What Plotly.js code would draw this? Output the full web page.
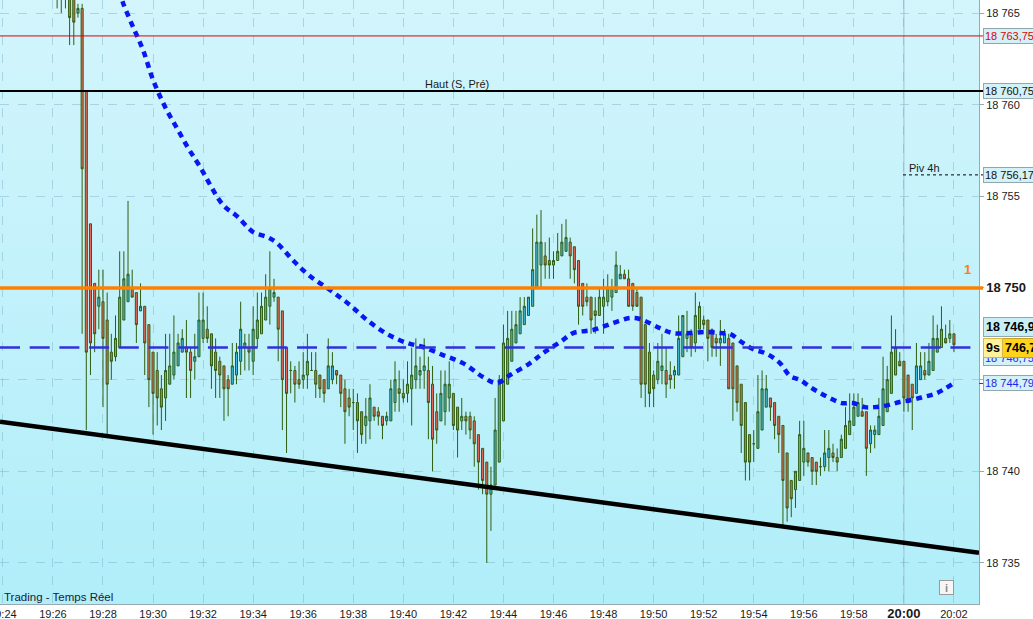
<!DOCTYPE html>
<html><head><meta charset="utf-8">
<script src="https://cdn.plot.ly/plotly-3.0.1.min.js"></script>
<style>
html,body{margin:0;padding:0;background:#fff;overflow:hidden}
#bg{position:absolute;left:0;top:0;width:979px;height:604px;background:linear-gradient(#d3f5fc,#b0eef9)}
#chart{position:absolute;left:0;top:0;width:1033px;height:619px}
</style></head><body><div id="bg"></div><div id="chart"></div>
<script>
const DAY = '2024-01-01 ';
const TIME = [
'19:26:10','19:26:20','19:26:30','19:26:40','19:26:50',
'19:27:00','19:27:10','19:27:20','19:27:30','19:27:40','19:27:50',
'19:28:00','19:28:10','19:28:20','19:28:30','19:28:40','19:28:50',
'19:29:00','19:29:10','19:29:20','19:29:30','19:29:40','19:29:50',
'19:30:00','19:30:10','19:30:20','19:30:30','19:30:40','19:30:50',
'19:31:00','19:31:10','19:31:20','19:31:30','19:31:40','19:31:50',
'19:32:00','19:32:10','19:32:20','19:32:30','19:32:40','19:32:50',
'19:33:00','19:33:10','19:33:20','19:33:30','19:33:40','19:33:50',
'19:34:00','19:34:10','19:34:20','19:34:30','19:34:40','19:34:50',
'19:35:00','19:35:10','19:35:20','19:35:30','19:35:40','19:35:50',
'19:36:00','19:36:10','19:36:20','19:36:30','19:36:40','19:36:50',
'19:37:00','19:37:10','19:37:20','19:37:30','19:37:40','19:37:50',
'19:38:00','19:38:10','19:38:20','19:38:30','19:38:40','19:38:50',
'19:39:00','19:39:10','19:39:20','19:39:30','19:39:40','19:39:50',
'19:40:00','19:40:10','19:40:20','19:40:30','19:40:40','19:40:50',
'19:41:00','19:41:10','19:41:20','19:41:30','19:41:40','19:41:50',
'19:42:00','19:42:10','19:42:20','19:42:30','19:42:40','19:42:50',
'19:43:00','19:43:10','19:43:20','19:43:30','19:43:40','19:43:50',
'19:44:00','19:44:10','19:44:20','19:44:30','19:44:40','19:44:50',
'19:45:00','19:45:10','19:45:20','19:45:30','19:45:40','19:45:50',
'19:46:00','19:46:10','19:46:20','19:46:30','19:46:40','19:46:50',
'19:47:00','19:47:10','19:47:20','19:47:30','19:47:40','19:47:50',
'19:48:00','19:48:10','19:48:20','19:48:30','19:48:40','19:48:50',
'19:49:00','19:49:10','19:49:20','19:49:30','19:49:40','19:49:50',
'19:50:00','19:50:10','19:50:20','19:50:30','19:50:40','19:50:50',
'19:51:00','19:51:10','19:51:20','19:51:30','19:51:40','19:51:50',
'19:52:00','19:52:10','19:52:20','19:52:30','19:52:40','19:52:50',
'19:53:00','19:53:10','19:53:20','19:53:30','19:53:40','19:53:50',
'19:54:00','19:54:10','19:54:20','19:54:30','19:54:40','19:54:50',
'19:55:00','19:55:10','19:55:20','19:55:30','19:55:40','19:55:50',
'19:56:00','19:56:10','19:56:20','19:56:30','19:56:40','19:56:50',
'19:57:00','19:57:10','19:57:20','19:57:30','19:57:40','19:57:50',
'19:58:00','19:58:10','19:58:20','19:58:30','19:58:40','19:58:50',
'19:59:00','19:59:10','19:59:20','19:59:30','19:59:40','19:59:50',
'20:00:00','20:00:10','20:00:20','20:00:30','20:00:40','20:00:50',
'20:01:00','20:01:10','20:01:20','20:01:30','20:01:40','20:01:50',
'20:02:00'
];
const OPEN = [
18767.0,18766.5,18766.25,18766.0,18765.75,18765.0,18765.25,18760.75,18753.5,18750.25,
18749.0,18749.25,18748.25,18746.5,18746.25,18746.75,18748.25,18749.25,18750.0,18749.75,
18748.75,18749.0,18748.0,18746.5,18745.5,18744.5,18744.0,18744.75,18745.25,18745.75,
18746.5,18746.75,18746.5,18746.0,18746.25,18747.25,18747.75,18747.5,18746.5,18746.0,
18745.75,18745.0,18744.75,18745.25,18746.0,18746.75,18746.75,18746.0,18747.25,18747.5,
18748.25,18749.0,18749.5,18749.5,18748.75,18746.75,18745.5,18745.5,18745.0,18745.0,
18745.25,18745.5,18745.5,18745.25,18745.0,18744.5,18745.0,18745.5,18745.25,18744.5,
18744.0,18743.75,18743.75,18743.25,18742.5,18742.75,18743.5,18743.25,18743.0,18742.75,
18742.75,18743.75,18744.5,18744.25,18744.25,18744.5,18745.0,18745.25,18745.5,18745.5,
18744.75,18743.25,18742.75,18743.25,18744.0,18744.25,18743.5,18742.75,18743.0,18743.0,
18742.75,18742.0,18741.25,18740.5,18738.75,18739.25,18740.5,18742.75,18744.75,18746.0,
18747.0,18747.5,18748.0,18748.5,18749.0,18750.0,18751.25,18751.75,18751.5,18751.25,
18751.5,18751.75,18752.0,18752.5,18752.25,18751.5,18750.25,18749.5,18749.5,18748.75,
18748.5,18749.0,18749.25,18749.5,18749.75,18750.5,18750.75,18750.5,18750.25,18749.75,
18749.5,18748.0,18746.5,18745.25,18745.0,18745.5,18745.5,18745.25,18745.25,18745.25,
18746.25,18747.25,18747.5,18747.0,18747.75,18748.25,18748.25,18747.75,18747.25,18747.0,
18747.0,18747.25,18747.0,18745.75,18744.75,18743.75,18742.0,18741.5,18741.25,18742.25,
18743.5,18744.0,18743.75,18743.0,18742.5,18741.0,18739.5,18739.0,18739.5,18740.5,
18741.0,18740.75,18740.5,18740.25,18740.25,18740.75,18741.0,18740.75,18740.75,18741.25,
18742.0,18742.5,18743.0,18743.25,18743.25,18741.5,18742.0,18742.0,18742.5,18743.25,
18744.25,18745.25,18746.0,18746.0,18745.25,18744.75,18744.25,18745.0,18745.5,18745.25,
18745.5,18746.5,18746.75,18747.25,18747.25,18747.5
];
const HIGH = [
18767.5,18767.0,18766.75,18766.25,18766.0,18765.5,18765.5,18760.75,18753.5,18750.25,
18751.0,18751.0,18749.75,18747.5,18748.5,18752.0,18752.0,18754.75,18751.0,18749.75,
18750.25,18749.0,18748.0,18746.5,18746.5,18745.25,18747.5,18747.5,18748.5,18747.5,
18747.75,18748.25,18746.75,18747.5,18749.75,18749.75,18749.0,18747.5,18747.25,18746.25,
18745.75,18745.25,18747.0,18747.0,18749.25,18747.5,18747.5,18749.0,18749.75,18749.75,
18750.75,18752.0,18750.5,18749.5,18748.75,18746.75,18746.0,18745.75,18746.0,18746.5,
18747.5,18746.5,18746.5,18745.25,18745.0,18747.25,18746.5,18745.5,18745.25,18745.0,
18744.5,18744.5,18744.25,18743.25,18744.0,18744.75,18743.5,18743.5,18743.0,18743.25,
18745.0,18746.0,18745.5,18745.0,18746.0,18746.75,18747.25,18746.25,18747.25,18746.25,
18745.75,18744.25,18745.5,18745.5,18746.0,18744.25,18743.5,18744.0,18743.25,18743.25,
18743.0,18742.0,18741.25,18740.5,18740.25,18744.0,18745.25,18748.0,18748.75,18748.75,
18748.75,18749.5,18749.5,18749.5,18753.25,18754.0,18754.25,18752.5,18752.75,18752.0,
18753.0,18753.5,18753.75,18752.75,18752.25,18751.5,18750.25,18750.25,18749.5,18749.5,
18750.0,18750.5,18750.75,18750.5,18752.0,18751.25,18751.0,18751.0,18750.25,18750.0,
18749.5,18748.0,18747.0,18745.5,18747.0,18747.5,18746.75,18746.0,18745.75,18748.5,
18748.5,18748.75,18747.75,18749.75,18749.25,18748.5,18748.25,18747.75,18747.5,18748.25,
18747.75,18747.5,18747.0,18745.75,18744.75,18743.75,18742.0,18742.25,18745.25,18745.5,
18745.25,18744.0,18743.75,18743.0,18742.5,18741.0,18739.5,18740.0,18742.75,18742.75,
18741.0,18740.75,18740.5,18740.75,18742.25,18742.25,18741.5,18741.25,18742.0,18743.5,
18744.25,18744.25,18744.25,18744.0,18743.25,18742.5,18742.5,18744.0,18746.25,18745.75,
18748.5,18747.75,18746.5,18746.0,18745.25,18744.75,18747.0,18746.5,18746.5,18747.0,
18748.5,18748.0,18749.0,18748.0,18748.25,18747.5
];
const LOW = [
18765.25,18765.0,18765.25,18763.25,18763.25,18764.75,18747.5,18742.25,18745.25,18746.5,
18747.75,18743.5,18742.0,18745.0,18746.0,18746.75,18748.25,18749.25,18749.5,18747.0,
18748.75,18745.25,18743.5,18742.0,18742.5,18742.25,18742.75,18744.75,18745.0,18745.75,
18746.5,18744.0,18744.0,18745.0,18746.25,18747.0,18747.0,18744.5,18744.0,18744.0,
18742.75,18743.0,18744.75,18744.75,18745.25,18745.5,18745.5,18745.25,18746.75,18747.5,
18748.25,18748.0,18749.25,18746.0,18742.25,18741.0,18744.25,18743.75,18744.5,18744.5,
18744.5,18745.5,18744.0,18744.0,18743.75,18744.5,18744.75,18744.75,18743.5,18741.5,
18743.0,18742.25,18741.0,18741.5,18741.5,18741.75,18742.75,18742.5,18741.75,18742.5,
18742.75,18743.25,18743.25,18743.75,18743.75,18742.5,18744.5,18744.5,18744.5,18741.75,
18740.0,18741.5,18742.75,18742.5,18743.25,18742.25,18740.75,18742.25,18742.0,18741.75,
18740.25,18739.0,18738.75,18735.0,18736.75,18739.25,18740.5,18742.75,18744.75,18746.0,
18747.0,18747.5,18748.0,18748.5,18749.0,18750.0,18750.0,18750.5,18750.5,18750.5,
18751.5,18751.75,18752.0,18750.5,18750.25,18748.0,18748.5,18749.0,18747.5,18747.5,
18748.5,18747.5,18749.0,18748.75,18749.75,18750.5,18750.5,18749.0,18748.75,18749.0,
18744.0,18743.5,18743.5,18743.5,18744.75,18744.75,18744.0,18744.5,18744.5,18745.25,
18746.25,18746.5,18746.25,18746.5,18747.75,18747.75,18746.0,18746.25,18746.25,18745.75,
18747.0,18744.5,18742.75,18743.25,18741.0,18739.5,18739.5,18740.5,18741.25,18742.25,
18743.5,18742.75,18741.75,18741.0,18737.0,18737.25,18737.5,18738.0,18739.5,18739.75,
18740.25,18739.25,18739.25,18739.75,18740.0,18740.0,18740.5,18740.0,18740.75,18741.25,
18742.0,18742.5,18743.0,18743.0,18739.75,18741.0,18741.25,18742.0,18742.5,18743.25,
18744.25,18745.25,18745.75,18743.25,18743.25,18742.25,18744.25,18745.0,18745.0,18745.25,
18745.5,18746.5,18746.75,18747.0,18747.0,18746.5
];
const CLOSE = [
18766.5,18766.25,18766.0,18764.75,18764.5,18765.25,18756.5,18746.5,18747.0,18747.5,
18749.5,18747.25,18744.75,18746.0,18747.25,18749.5,18750.5,18750.75,18749.5,18748.0,
18749.0,18747.0,18745.0,18744.25,18744.0,18743.5,18745.5,18745.75,18746.5,18747.0,
18747.25,18746.5,18745.5,18746.25,18748.25,18748.25,18747.25,18745.75,18745.5,18745.25,
18744.5,18744.5,18745.75,18746.5,18747.75,18747.0,18746.5,18747.75,18748.25,18749.0,
18749.5,18750.0,18749.75,18747.75,18745.0,18744.25,18745.5,18744.75,18744.75,18745.25,
18746.0,18745.5,18744.75,18744.5,18744.25,18745.75,18745.75,18745.25,18744.25,18743.25,
18743.5,18743.75,18742.75,18742.0,18743.0,18744.0,18743.0,18743.0,18742.5,18743.0,
18744.5,18745.0,18744.25,18744.0,18744.75,18745.25,18745.75,18745.5,18745.75,18743.75,
18741.75,18742.25,18744.25,18744.75,18744.75,18742.5,18742.25,18743.0,18742.75,18742.25,
18741.5,18740.5,18739.5,18738.75,18739.25,18742.25,18745.0,18747.0,18747.25,18747.75,
18748.0,18748.75,18749.0,18749.5,18751.0,18752.5,18752.5,18751.25,18751.25,18751.5,
18752.0,18752.5,18752.75,18751.75,18751.0,18749.0,18749.0,18749.25,18748.25,18748.5,
18749.5,18749.5,18750.0,18750.0,18751.25,18750.75,18750.5,18749.0,18749.0,18749.0,
18744.75,18744.75,18744.25,18744.5,18746.0,18745.75,18744.75,18745.0,18745.5,18747.25,
18748.5,18747.5,18746.75,18748.5,18749.0,18748.0,18747.25,18746.75,18747.0,18747.25,
18747.5,18744.5,18744.5,18743.75,18742.5,18740.5,18740.5,18741.5,18743.25,18744.5,
18744.5,18743.5,18742.5,18742.0,18739.5,18738.0,18738.5,18740.0,18742.0,18741.25,
18740.5,18740.0,18740.0,18740.25,18741.0,18741.25,18740.75,18740.5,18741.75,18742.5,
18742.75,18743.5,18743.75,18743.0,18741.25,18742.25,18742.25,18743.0,18744.5,18745.0,
18746.5,18746.75,18745.75,18744.0,18743.75,18744.0,18745.75,18745.75,18745.25,18746.0,
18747.25,18747.25,18747.75,18747.0,18747.5,18746.9
];
// Dotted moving average
const MA_T = ['19:28:30','19:28:48','19:29:12','19:29:36','19:30:00','19:30:29','19:30:57','19:31:24','19:31:50',
'19:32:48','19:33:21','19:34:00','19:34:33','19:34:57','19:35:35','19:36:16','19:37:04','19:37:52','19:38:33',
'19:39:21','19:40:09','19:40:47','19:41:35','19:42:23','19:43:11','19:43:44','19:44:16','19:45:04','19:45:35',
'19:46:16','19:46:47','19:47:35','19:48:23','19:49:03','19:49:27','19:50:15','19:50:46','19:51:27','19:52:08',
'19:52:39','19:53:03','19:53:34','19:53:58','19:54:32','19:55:03','19:55:27','19:55:51','19:56:15','19:56:39',
'19:57:03','19:57:31','19:57:58','19:58:26','19:58:50','19:59:22','19:59:50','20:00:19','20:00:46','20:01:19','20:01:58'];
const MA_V = [18766.8,18765.55,18764.24,18762.98,18761.35,18759.87,18758.73,18757.64,18756.71,
18754.52,18753.92,18753.05,18752.78,18752.45,18751.52,18750.65,18749.89,18749.07,18748.25,
18747.49,18747.0,18746.78,18746.34,18745.9,18745.14,18744.81,18745.25,18745.9,18746.45,
18747.05,18747.54,18747.71,18748.09,18748.36,18748.31,18747.81,18747.54,18747.54,18747.6,
18747.54,18747.49,18747.0,18746.67,18746.4,18745.9,18745.2,18744.98,18744.6,18744.27,
18743.99,18743.72,18743.72,18743.5,18743.5,18743.61,18743.78,18743.89,18744.05,18744.27,18744.79];
const TREND_T = ['19:23:53','20:03:00'];
const TREND_V = [18742.7, 18735.55];
const X_RANGE = ['19:23:53.1','20:03:00'];
const Y_RANGE = [18732.76, 18765.71];
const X_TICKS = ['19:24','19:26','19:28','19:30','19:32','19:34','19:36','19:38','19:40','19:42','19:44',
'19:46','19:48','19:50','19:52','19:54','19:56','19:58','20:00','20:02'];
const Y_TICKS = [18735,18740,18745,18750,18755,18760,18765];
const Y_TICK_TEXT = ['18 735','18 740','','<span style="font-size:13px"><b>18 750</b></span>','18 755','18 760','18 765'];
const LVL_RED = 18763.75, LVL_HAUT = 18760.75, LVL_PIV = 18756.17, LVL_ORANGE = 18750, LVL_BID = 18746.75, LVL_MA = 18744.79, LAST = 18746.9;

const F = 'Liberation Sans, Arial, sans-serif';
const d = t => DAY + t;
const XL = 983/979;

const traces = [
 {type:'candlestick', x:TIME.map(d), open:OPEN, high:HIGH, low:LOW, close:CLOSE,
  increasing:{fillcolor:'#3ebbe4', line:{color:'#2f5e10', width:1}},
  decreasing:{fillcolor:'#e8675a', line:{color:'#2f5e10', width:1}},
  whiskerwidth:0, hoverinfo:'none', showlegend:false},
 {type:'scatter', mode:'lines', x:MA_T.map(d), y:MA_V, line:{color:'#0818f2', width:4.5, dash:'6px,5px', shape:'spline'}, hoverinfo:'none', showlegend:false},
 {type:'scatter', mode:'lines', x:TREND_T.map(d), y:TREND_V, line:{color:'#000', width:4.5}, hoverinfo:'none', showlegend:false}
];

const hline = (y, color, width, dash, x0, x1) => ({type:'line', xref:'paper', x0:x0===undefined?0:x0, x1:x1===undefined?XL:x1, yref:'y', y0:y, y1:y, line:{color, width, dash:dash||'solid'}});
const shapes = [
 {type:'line', xref:'x', x0:d('20:00:00'), x1:d('20:00:00'), yref:'paper', y0:0, y1:1, line:{color:'#9cc4d4', width:1}, layer:'below'},
 hline(LVL_RED, '#e00000', 1),
 hline(LVL_HAUT, '#000000', 2),
 hline(LVL_PIV, '#000000', 1, '3px,3px', 903/979),
 hline(LVL_ORANGE, '#ff8000', 3.5),
 hline(LVL_BID, '#3030e0', 2.5, '20px,9.7px', 0, 1),
 hline(LVL_MA, '#3030e0', 1, 'solid', 1, XL)
];

const box = {bgcolor:'#d2f2f7', bordercolor:'#8fa8ad', borderwidth:1, borderpad:1, showarrow:false, xref:'paper', yref:'y', xanchor:'left'};
const annotations = [
 Object.assign({}, box, {x:XL, y:LVL_RED, text:'18 763,75', font:{family:F, size:11, color:'#e00000'}}),
 Object.assign({}, box, {x:XL, y:LVL_HAUT, text:'18 760,75', font:{family:F, size:11, color:'#111'}}),
 Object.assign({}, box, {x:XL, y:LVL_PIV, text:'18 756,17', font:{family:F, size:11, color:'#111'}}),
 Object.assign({}, box, {x:XL, y:LVL_BID, yshift:-10, text:'18 746,75', font:{family:F, size:11, color:'#2626e6'}}),
 Object.assign({}, box, {x:XL, y:LAST, yshift:18, bgcolor:'#c9eef6', borderpad:2, text:'<b>18 746,9</b>', font:{family:F, size:12.5, color:'#000'}}),
 Object.assign({}, box, {x:1002/979, y:LVL_BID, bgcolor:'#ffd21c', bordercolor:'#c8a020', borderpad:2, text:'<b>746,75</b>', font:{family:F, size:12.5, color:'#000'}}),
 Object.assign({}, box, {x:XL, y:LVL_BID, bgcolor:'#fff29a', bordercolor:'#d6b84a', borderpad:2, text:'<b>9s</b>', font:{family:F, size:12.5, color:'#000'}}),
 Object.assign({}, box, {x:XL, y:LVL_MA, text:'18 744,79', font:{family:F, size:11, color:'#2626e6'}}),
 {xref:'paper', x:973/979, yref:'y', y:LVL_ORANGE, yshift:18, text:'<b>1</b>', showarrow:false, font:{family:F, size:13, color:'#ff8000'}},
 {xref:'paper', x:457/979, yref:'y', y:LVL_HAUT, yshift:7, text:'Haut (S, Pré)', showarrow:false, font:{family:F, size:11, color:'#1a1a1a'}},
 {xref:'paper', x:907/979, xanchor:'left', yref:'y', y:LVL_PIV, yshift:7, text:'Piv 4h', showarrow:false, font:{family:F, size:11, color:'#1a1a1a'}},
 {xref:'paper', x:2/979, xanchor:'left', yref:'paper', y:7/604, yanchor:'middle', text:'Trading - Temps Réel', showarrow:false, font:{family:F, size:11.5, color:'#1a1a3a'}},
 {xref:'paper', x:954/979, yref:'paper', y:9/604, text:'<b>i</b>', showarrow:false, bgcolor:'#f6f6f6', bordercolor:'#9a9a9a', borderwidth:1, width:11, height:11, font:{family:F, size:11, color:'#8a8a8a'}}
];

const layout = {
 width:1033, height:619,
 margin:{l:0, r:54, t:0, b:15, pad:0},
 paper_bgcolor:'rgba(0,0,0,0)', plot_bgcolor:'rgba(0,0,0,0)',
 showlegend:false, hovermode:false, dragmode:false,
 font:{family:F, size:11, color:'#1a1a1a'},
 xaxis:{type:'date', range:X_RANGE.map(d), rangeslider:{visible:false},
  tickmode:'array', tickvals:X_TICKS.map(t => d(t+':00')),
  ticktext:X_TICKS.map(t => t === '20:00' ? '<span style="font-size:13px"><b>20:00</b></span>' : t),
  showgrid:true, gridcolor:'rgba(120,175,195,0.45)', griddash:'dash', gridwidth:1,
  showline:true, linecolor:'#97aab2', linewidth:1, ticks:'', ticklen:0,
  ticklabeloverflow:'allow',
  tickfont:{family:F, size:11, color:'#1a1a1a'}, zeroline:false, fixedrange:true},
 yaxis:{side:'right', range:Y_RANGE, tickmode:'array', tickvals:Y_TICKS, ticktext:Y_TICK_TEXT,
  showgrid:true, gridcolor:'rgba(120,175,195,0.45)', griddash:'dash', gridwidth:1,
  showline:true, linecolor:'#97aab2', linewidth:1, ticks:'outside', ticklen:4, tickcolor:'#97aab2',
  tickfont:{family:F, size:11, color:'#1a1a1a'}, zeroline:false, fixedrange:true},
 shapes, annotations
};
Plotly.newPlot('chart', traces, layout, {staticPlot:true, displayModeBar:false});
</script></body></html>
